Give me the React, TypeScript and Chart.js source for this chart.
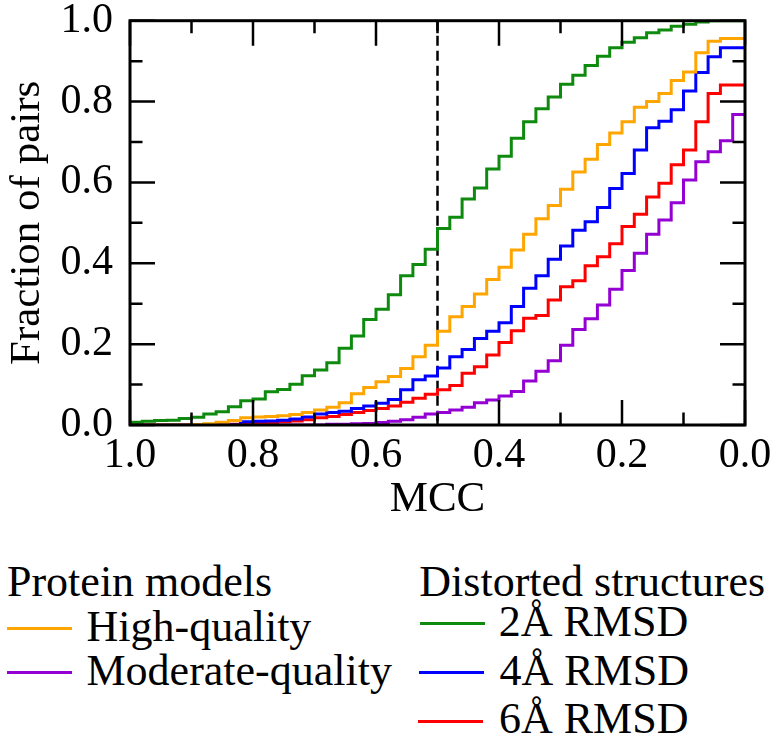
import React, { useEffect, useRef } from 'react';
import { Chart, registerables } from 'chart.js';

Chart.register(...registerables);

// Left edge (MCC) of each 0.02-wide bin, read from the reversed x-axis
const binStarts = [
  1.0, 0.98, 0.96, 0.94, 0.92, 0.9, 0.88, 0.86, 0.84, 0.82,
  0.8, 0.78, 0.76, 0.74, 0.72, 0.7, 0.68, 0.66, 0.64, 0.62,
  0.6, 0.58, 0.56, 0.54, 0.52, 0.5, 0.48, 0.46, 0.44, 0.42,
  0.4, 0.38, 0.36, 0.34, 0.32, 0.3, 0.28, 0.26, 0.24, 0.22,
  0.2, 0.18, 0.16, 0.14, 0.12, 0.1, 0.08, 0.06, 0.04, 0.02,
];
const binEnd = 0.0;

const highQuality = [
  0, 0, 0, 0, 0, 0.001, 0.003, 0.007, 0.011, 0.018,
  0.02, 0.021, 0.023, 0.026, 0.031, 0.037, 0.044, 0.055, 0.077, 0.093,
  0.107, 0.12, 0.14, 0.169, 0.197, 0.232, 0.268, 0.293, 0.324, 0.36,
  0.39, 0.433, 0.472, 0.51, 0.543, 0.583, 0.626, 0.657, 0.694, 0.722,
  0.75, 0.786, 0.8, 0.82, 0.852, 0.873, 0.921, 0.949, 0.956, 0.956,
];
const moderateQuality = [
  0, 0, 0, 0, 0, 0, 0, 0, 0, 0,
  0, 0, 0, 0, 0, 0, 0.002, 0.002, 0.003, 0.004,
  0.006, 0.009, 0.013, 0.019, 0.027, 0.031, 0.037, 0.044, 0.055, 0.062,
  0.072, 0.083, 0.109, 0.133, 0.159, 0.197, 0.236, 0.263, 0.297, 0.336,
  0.382, 0.425, 0.472, 0.507, 0.55, 0.606, 0.651, 0.676, 0.703, 0.768,
];
const rmsd2 = [
  0.007, 0.009, 0.011, 0.012, 0.016, 0.019, 0.027, 0.033, 0.045, 0.06,
  0.064, 0.082, 0.088, 0.101, 0.122, 0.136, 0.154, 0.19, 0.22, 0.261,
  0.286, 0.322, 0.369, 0.397, 0.435, 0.486, 0.514, 0.559, 0.586, 0.633,
  0.665, 0.709, 0.75, 0.782, 0.811, 0.843, 0.865, 0.889, 0.912, 0.933,
  0.947, 0.958, 0.97, 0.977, 0.986, 0.991, 0.997, 1.0, 1.0, 1.0,
];
const rmsd4 = [
  0, 0, 0, 0, 0, 0, 0, 0, 0, 0.008,
  0.009, 0.01, 0.012, 0.015, 0.02, 0.027, 0.031, 0.034, 0.041, 0.047,
  0.054, 0.063, 0.087, 0.112, 0.121, 0.141, 0.169, 0.187, 0.214, 0.232,
  0.253, 0.293, 0.338, 0.369, 0.41, 0.443, 0.482, 0.503, 0.538, 0.585,
  0.622, 0.68, 0.735, 0.751, 0.78, 0.826, 0.872, 0.911, 0.933, 0.933,
];
const rmsd6 = [
  0, 0, 0, 0, 0, 0, 0, 0, 0.002, 0.004,
  0.004, 0.005, 0.008, 0.01, 0.013, 0.018, 0.021, 0.026, 0.031, 0.036,
  0.041, 0.047, 0.056, 0.066, 0.076, 0.087, 0.098, 0.128, 0.144, 0.173,
  0.204, 0.233, 0.264, 0.271, 0.309, 0.342, 0.357, 0.394, 0.416, 0.448,
  0.491, 0.521, 0.564, 0.598, 0.644, 0.68, 0.75, 0.82, 0.841, 0.841,
];

const thresholdMCC = 0.5;

const xMajorTicks = [1.0, 0.8, 0.6, 0.4, 0.2, 0.0];
const xMinorTicks = [0.9, 0.7, 0.5, 0.3, 0.1];
const yMajorTicks = [0.0, 0.2, 0.4, 0.6, 0.8, 1.0];
const yMinorTicks = [0.1, 0.3, 0.5, 0.7, 0.9];

const FONT = '"Liberation Serif", "Times New Roman", serif';

const COLORS = {
  high: '#FFA500',
  moderate: '#9400D3',
  r2: '#0E8A0E',
  r4: '#0000FF',
  r6: '#FF0000',
};

function toSteps(values: number[]) {
  const pts = binStarts.map((x, i) => ({ x, y: values[i] }));
  pts.push({ x: binEnd, y: values[values.length - 1] });
  return pts;
}

const framePlugin = {
  id: 'frameTicks',
  afterDatasetsDraw(chart: any) {
    const { ctx, chartArea, scales } = chart;
    const { left, right, top, bottom } = chartArea;
    const xs = scales.x;
    const ys = scales.y;
    ctx.save();
    ctx.strokeStyle = '#000';
    ctx.lineWidth = 2.5;
    ctx.lineCap = 'butt';
    const major = 25;
    const minor = 12.5;
    const drawX = (vals: number[], len: number) => {
      vals.forEach((v) => {
        const px = xs.getPixelForValue(v);
        ctx.beginPath();
        ctx.moveTo(px, bottom);
        ctx.lineTo(px, bottom - len);
        ctx.moveTo(px, top);
        ctx.lineTo(px, top + len);
        ctx.stroke();
      });
    };
    const drawY = (vals: number[], len: number) => {
      vals.forEach((v) => {
        const py = ys.getPixelForValue(v);
        ctx.beginPath();
        ctx.moveTo(left, py);
        ctx.lineTo(left + len, py);
        ctx.moveTo(right, py);
        ctx.lineTo(right - len, py);
        ctx.stroke();
      });
    };
    drawX(xMajorTicks, major);
    drawX(xMinorTicks, minor);
    drawY(yMajorTicks, major);
    drawY(yMinorTicks, minor);
    ctx.lineWidth = 3;
    ctx.strokeRect(left, top, right - left, bottom - top);
    ctx.restore();
  },
};

function LegendText({ text, left, baseline }: { text: string; left: number; baseline: number }) {
  return (
    <div
      style={{
        position: 'absolute',
        left,
        top: baseline - 36.85,
        font: `44px ${FONT}`,
        lineHeight: '44px',
        whiteSpace: 'nowrap',
        color: '#000',
      }}
    >
      {text}
    </div>
  );
}

function LegendLine({ color, left, y }: { color: string; left: number; y: number }) {
  return (
    <div
      style={{
        position: 'absolute',
        left,
        top: y - 1.5,
        width: 65,
        height: 3,
        background: color,
      }}
    />
  );
}

export default function App() {
  const canvasRef = useRef<HTMLCanvasElement | null>(null);

  useEffect(() => {
    if (!canvasRef.current) return;
    const lineDs = (label: string, values: number[], color: string) => ({
      label,
      data: toSteps(values),
      borderColor: color,
      backgroundColor: color,
      borderWidth: 3,
      pointRadius: 0,
      stepped: true,
      fill: false,
      tension: 0,
      borderJoinStyle: 'miter',
    });
    const chart = new Chart(canvasRef.current, {
      type: 'line',
      data: {
        datasets: [
          lineDs('2Å RMSD', rmsd2, COLORS.r2),
          lineDs('High-quality', highQuality, COLORS.high),
          lineDs('4Å RMSD', rmsd4, COLORS.r4),
          lineDs('6Å RMSD', rmsd6, COLORS.r6),
          lineDs('Moderate-quality', moderateQuality, COLORS.moderate),
          {
            label: 'threshold',
            data: [
              { x: thresholdMCC, y: 1 },
              { x: thresholdMCC, y: 0 },
            ],
            borderColor: '#000',
            borderWidth: 2.5,
            borderDash: [10, 5],
            pointRadius: 0,
            fill: false,
          },
        ] as any,
      },
      options: {
        animation: false,
        responsive: false,
        devicePixelRatio: 1,
        parsing: false,
        normalized: true,
        layout: { padding: { top: 20.7, right: 32, bottom: 0, left: 0 } },
        plugins: {
          legend: { display: false },
          tooltip: { enabled: false },
        },
        events: [],
        scales: {
          x: {
            type: 'linear',
            min: 0,
            max: 1,
            reverse: true,
            afterBuildTicks: (s: any) => {
              s.ticks = xMajorTicks.map((v) => ({ value: v }));
            },
            afterFit: (s: any) => {
              s.height = 101;
              s.paddingLeft = 0;
              s.paddingRight = 0;
              s.paddingTop = 0;
              s.paddingBottom = 0;
            },
            ticks: {
              callback: (v: any) => Number(v).toFixed(1),
              font: { family: FONT, size: 42 },
              color: '#000',
              padding: 6,
              maxRotation: 0,
              autoSkip: false,
            },
            grid: { display: false, drawTicks: false },
            border: { display: false },
            title: {
              display: true,
              text: 'MCC',
              font: { family: FONT, size: 43 },
              color: '#000',
              padding: 0,
            },
          },
          y: {
            type: 'linear',
            min: 0,
            max: 1,
            afterBuildTicks: (s: any) => {
              s.ticks = yMajorTicks.map((v) => ({ value: v }));
            },
            afterFit: (s: any) => {
              s.width = 130;
              s.paddingLeft = 0;
              s.paddingRight = 0;
              s.paddingTop = 0;
              s.paddingBottom = 0;
            },
            ticks: {
              callback: (v: any) => Number(v).toFixed(1),
              font: { family: FONT, size: 42 },
              color: '#000',
              padding: 17,
              autoSkip: false,
            },
            grid: { display: false, drawTicks: false },
            border: { display: false },
            title: {
              display: true,
              text: 'Fraction of pairs',
              font: { family: FONT, size: 43 },
              color: '#000',
              padding: { top: 2, bottom: 0 },
            },
          },
        },
      } as any,
      plugins: [framePlugin],
    });
    return () => chart.destroy();
  }, []);

  return (
    <div
      style={{
        position: 'absolute',
        left: 0,
        top: 0,
        width: 777,
        height: 743,
        background: '#fff',
        overflow: 'hidden',
      }}
    >
      <canvas
        ref={canvasRef}
        width={777}
        height={526}
        style={{ position: 'absolute', left: 0, top: 0, width: 777, height: 526 }}
      />
      <LegendText text="Protein models" left={7} baseline={597} />
      <LegendLine color={COLORS.high} left={7} y={628} />
      <LegendText text="High-quality" left={86.5} baseline={642} />
      <LegendLine color={COLORS.moderate} left={7} y={672} />
      <LegendText text="Moderate-quality" left={86.5} baseline={686} />

      <LegendText text="Distorted structures" left={419.3} baseline={597} />
      <LegendLine color={COLORS.r2} left={420} y={623.3} />
      <LegendText text="2Å RMSD" left={498.7} baseline={637.3} />
      <LegendLine color={COLORS.r4} left={419} y={672.7} />
      <LegendText text="4Å RMSD" left={499.5} baseline={685.7} />
      <LegendLine color={COLORS.r6} left={418} y={721} />
      <LegendText text="6Å RMSD" left={499} baseline={734} />
    </div>
  );
}
